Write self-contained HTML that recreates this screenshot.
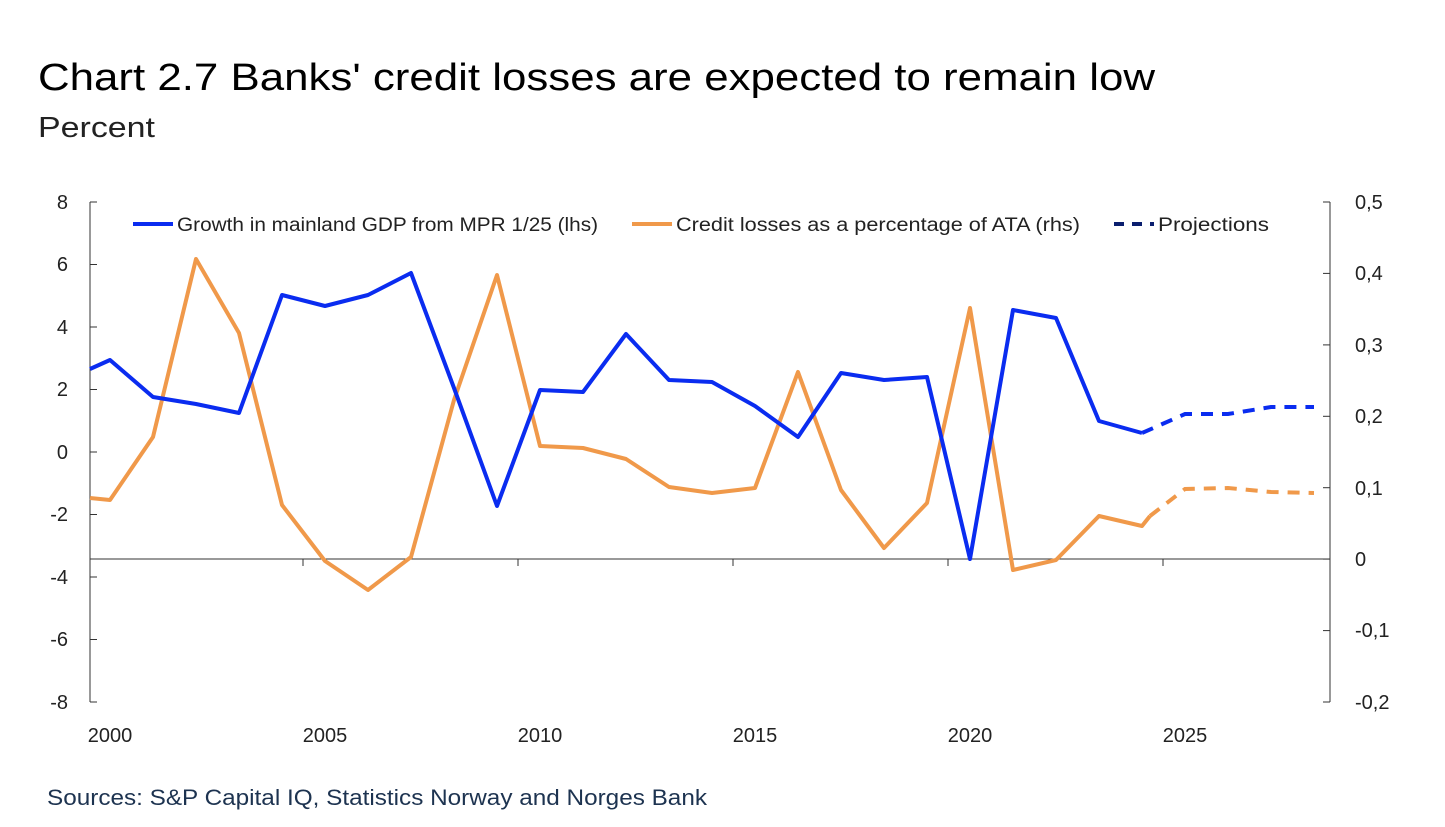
<!DOCTYPE html>
<html><head><meta charset="utf-8"><style>
html,body{margin:0;padding:0;background:#fff;}
svg{display:block;font-family:"Liberation Sans",sans-serif;}
</style></head><body>
<svg width="1445" height="827" viewBox="0 0 1445 827" xmlns="http://www.w3.org/2000/svg">
<rect width="1445" height="827" fill="#fff"/>
<text x="38" y="90" font-size="38" fill="#000" textLength="1117" lengthAdjust="spacingAndGlyphs">Chart 2.7 Banks' credit losses are expected to remain low</text>
<text x="38" y="137" font-size="29" fill="#222" textLength="117" lengthAdjust="spacingAndGlyphs">Percent</text>
<!-- axes -->
<line x1="90" y1="202" x2="90" y2="702" stroke="#333" stroke-width="1"/>
<line x1="1330" y1="202" x2="1330" y2="702" stroke="#333" stroke-width="1"/>
<line x1="90" y1="559" x2="1330" y2="559" stroke="#333" stroke-width="1"/>
<g stroke="#333" stroke-width="1">
<line x1="90" y1="202" x2="97" y2="202"/><line x1="90" y1="264.5" x2="97" y2="264.5"/><line x1="90" y1="327" x2="97" y2="327"/><line x1="90" y1="389.5" x2="97" y2="389.5"/><line x1="90" y1="452" x2="97" y2="452"/><line x1="90" y1="514.5" x2="97" y2="514.5"/><line x1="90" y1="577" x2="97" y2="577"/><line x1="90" y1="639.5" x2="97" y2="639.5"/><line x1="90" y1="702" x2="97" y2="702"/>
<line x1="1323" y1="202" x2="1330" y2="202"/><line x1="1323" y1="273.4" x2="1330" y2="273.4"/><line x1="1323" y1="344.9" x2="1330" y2="344.9"/><line x1="1323" y1="416.3" x2="1330" y2="416.3"/><line x1="1323" y1="487.7" x2="1330" y2="487.7"/><line x1="1323" y1="559.1" x2="1330" y2="559.1"/><line x1="1323" y1="630.6" x2="1330" y2="630.6"/><line x1="1323" y1="702" x2="1330" y2="702"/>
<line x1="303" y1="559" x2="303" y2="566"/><line x1="518" y1="559" x2="518" y2="566"/><line x1="733" y1="559" x2="733" y2="566"/><line x1="948" y1="559" x2="948" y2="566"/><line x1="1163" y1="559" x2="1163" y2="566"/>
</g>
<g font-size="20" fill="#222" text-anchor="end">
<text x="68" y="209">8</text><text x="68" y="271">6</text><text x="68" y="334">4</text><text x="68" y="396">2</text><text x="68" y="459">0</text><text x="68" y="521">-2</text><text x="68" y="584">-4</text><text x="68" y="646">-6</text><text x="68" y="709">-8</text>
</g>
<g font-size="20" fill="#222" text-anchor="start">
<text x="1355" y="209">0,5</text><text x="1355" y="280">0,4</text><text x="1355" y="352">0,3</text><text x="1355" y="423">0,2</text><text x="1355" y="495">0,1</text><text x="1355" y="566">0</text><text x="1355" y="637">-0,1</text><text x="1355" y="709">-0,2</text>
</g>
<g font-size="20" fill="#222" text-anchor="middle">
<text x="110" y="742">2000</text><text x="325" y="742">2005</text><text x="540" y="742">2010</text><text x="755" y="742">2015</text><text x="970" y="742">2020</text><text x="1185" y="742">2025</text>
</g>
<!-- series -->
<polyline fill="none" stroke="#f0994a" stroke-width="4" stroke-linejoin="round" points="90,498 110,500 153,437 196,259 239,333 282,505 325,561 368,590 411,557 454,400 497,275 540,446 583,448 626,459 669,487 712,493 755,488 798,372 841,490 884,548 927,503 970,308 1013,570 1056,560 1099,516 1142,526 1150,516"/>
<polyline fill="none" stroke="#f0994a" stroke-width="4" stroke-dasharray="12,9" points="1150,516 1185,489 1228,488 1271,492 1314,493"/>
<polyline fill="none" stroke="#0a2cf0" stroke-width="4" stroke-linejoin="round" points="90,369 110,360 153,397 196,404 239,413 282,295 325,306 368,295 411,273 454,388 497,506 540,390 583,392 626,334 669,380 712,382 755,406 798,437 841,373 884,380 927,377 970,559 1013,310 1056,318 1099,421 1142,433"/>
<polyline fill="none" stroke="#0a2cf0" stroke-width="4" stroke-dasharray="12,9" points="1142,433 1185,414 1228,414 1271,407 1314,407"/>
<!-- legend -->
<line x1="133" y1="224" x2="173" y2="224" stroke="#0a2cf0" stroke-width="4"/>
<text x="177" y="231" font-size="19" fill="#222" textLength="421" lengthAdjust="spacingAndGlyphs">Growth in mainland GDP from MPR 1/25 (lhs)</text>
<line x1="632" y1="224" x2="672" y2="224" stroke="#f0994a" stroke-width="4"/>
<text x="676" y="231" font-size="19" fill="#222" textLength="404" lengthAdjust="spacingAndGlyphs">Credit losses as a percentage of ATA (rhs)</text>
<line x1="1114" y1="224" x2="1154" y2="224" stroke="#0a1e6e" stroke-width="4" stroke-dasharray="10,8"/>
<text x="1158" y="231" font-size="19" fill="#222" textLength="111" lengthAdjust="spacingAndGlyphs">Projections</text>
<text x="47" y="805" font-size="22" fill="#1d3350" textLength="660" lengthAdjust="spacingAndGlyphs">Sources: S&amp;P Capital IQ, Statistics Norway and Norges Bank</text>
</svg>
</body></html>
